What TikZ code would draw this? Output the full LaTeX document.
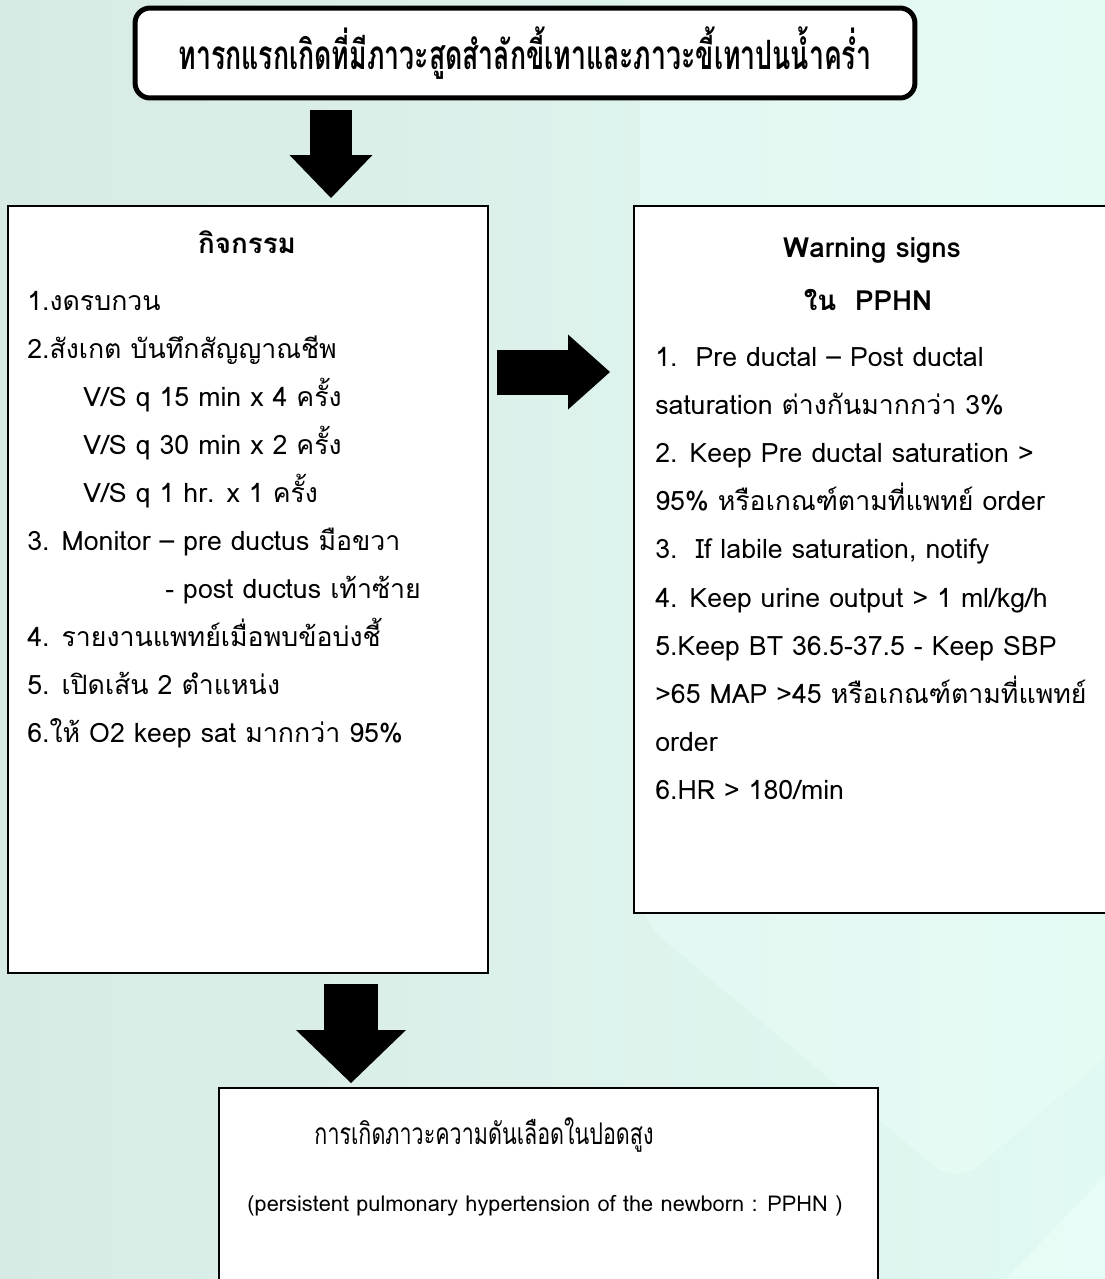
\documentclass[tikz,border=0pt]{standalone}
\usepackage{fontspec}
\usetikzlibrary{arrows.meta}

\newfontfamily\thai[Script=Thai]{Loma}
\newfontfamily\thaicond[Script=Thai,FakeStretch=0.66]{Loma}
\newfontfamily\thaithin[Script=Thai,FakeStretch=0.72]{Loma}

\definecolor{bgleft}{RGB}{216,234,228}
\definecolor{bgright}{RGB}{224,249,242}
\definecolor{bglight}{RGB}{233,253,247}

\tikzset{
  panel/.style={draw=black, line width=0.04cm, fill=white, anchor=north west, inner sep=0pt},
  titlebox/.style={draw=black, line width=0.1cm, fill=white, rounded corners=0.3cm,
    inner sep=0pt, minimum width=15.6cm, minimum height=1.8cm},
  bodytext/.style={font=\thai\fontsize{15.2}{18}\selectfont, inner sep=0pt, anchor=base west},
  headtext/.style={font=\thai\bfseries\fontsize{15.8}{18}\selectfont, inner sep=0pt, anchor=base},
  blockarrow/.style n args={3}{line width=#1, draw=black,
    -{Triangle[width=#2, length=#3, line width=0pt]}}
}

\begin{document}
\begin{tikzpicture}[x=0.02cm, y=-0.02cm]
  % พื้นหลัง
  \useasboundingbox (0,0) rectangle (1105,1279);
  \clip (0,0) rectangle (1105,1279);
  \fill[left color=bgleft, right color=bgright] (0,0) rectangle (1105,1279);
  \fill[bglight, opacity=0.55, rounded corners=0.6cm]
    (640,-40) -- (1160,-40) -- (1160,1010) -- (957,1185) -- (640,920) -- cycle;
  \fill[bglight, opacity=0.8, rounded corners=0.4cm]
    (985,1300) -- (1130,1150) -- (1130,1300) -- cycle;

  % กล่อง
  \node[titlebox, font=\thaicond\bfseries\fontsize{23}{26}\selectfont] (title) at (525,53)
    {ทารกแรกเกิดที่มีภาวะสูดสำลักขี้เทาและภาวะขี้เทาปนน้ำคร่ำ};
  \node[panel, minimum width=9.6cm, minimum height=15.34cm] (acts) at (7,205) {};
  \node[panel, minimum width=9.6cm, minimum height=14.14cm] (warn) at (633,205) {};
  \node[panel, minimum width=13.18cm, minimum height=4.8cm] (pphn) at (218,1087) {};

  % ลูกศร
  \coordinate (ax1) at (331,0);
  \coordinate (ax2) at (351,0);
  \coordinate (ay) at (0,372);
  \draw[blockarrow={0.84cm}{1.66cm}{0.86cm}, shorten <=0.2cm, shorten >=0.14cm]
    (title.south -| ax1) -- (acts.north -| ax1);
  \draw[blockarrow={0.9cm}{1.5cm}{0.84cm}, shorten <=0.16cm, shorten >=0.46cm]
    (acts.east |- ay) -- (warn.west |- ay);
  \draw[blockarrow={1.1cm}{2.2cm}{1.06cm}, shorten <=0.2cm, shorten >=0.08cm]
    (acts.south -| ax2) -- (pphn.north -| ax2);

  % กิจกรรม
  \node[headtext] (acthead) at (247,253) {กิจกรรม};
  \foreach \txt [count=\i] in {
      {1.งดรบกวน},
      {2.สังเกต บันทึกสัญญาณชีพ},
      {\hspace*{1.12cm}V/S q 15 min x 4 ครั้ง},
      {\hspace*{1.12cm}V/S q 30 min x 2 ครั้ง},
      {\hspace*{1.12cm}V/S q 1 hr. x 1 ครั้ง},
      {3. Monitor – pre ductus มือขวา},
      {\hspace*{2.76cm}- post ductus เท้าซ้าย},
      {4. รายงานแพทย์เมื่อพบข้อบ่งชี้},
      {5. เปิดเส้น 2 ตำแหน่ง},
      {6.ให้ O2 keep sat มากกว่า 95\%}}
    \node[bodytext] (act\i) at (27,{310+48.1*(\i-1)}) {\txt};

  % Warning signs
  \node[headtext] (warnhead) at (872,257) {Warning signs};
  \node[headtext] (warnsub) at (868,310) {ใน\ \ PPHN};
  \foreach \txt [count=\i] in {
      {1.\ \ Pre ductal – Post ductal},
      {saturation ต่างกันมากกว่า 3\%},
      {2. Keep Pre ductal saturation >},
      {95\% หรือเกณฑ์ตามที่แพทย์ order},
      {3.\ \ If labile saturation, notify},
      {4. Keep urine output > 1 ml/kg/h},
      {5.Keep BT 36.5-37.5 - Keep SBP},
      {>65 MAP >45 หรือเกณฑ์ตามที่แพทย์},
      {order},
      {6.HR > 180/min}}
    \node[bodytext] (warn\i) at (655,{366+48.2*(\i-1)}) {\txt};

  % PPHN
  \node[font=\thaithin\fontsize{17}{20}\selectfont, inner sep=0pt, anchor=base] (pphnth) at (484,1144)
    {การเกิดภาวะความดันเลือดในปอดสูง};
  \node[font=\thai\fontsize{12.4}{15}\selectfont, inner sep=0pt, anchor=base] (pphnen) at (545,1211)
    {(persistent pulmonary hypertension of the newborn : PPHN )};
\end{tikzpicture}
\end{document}
